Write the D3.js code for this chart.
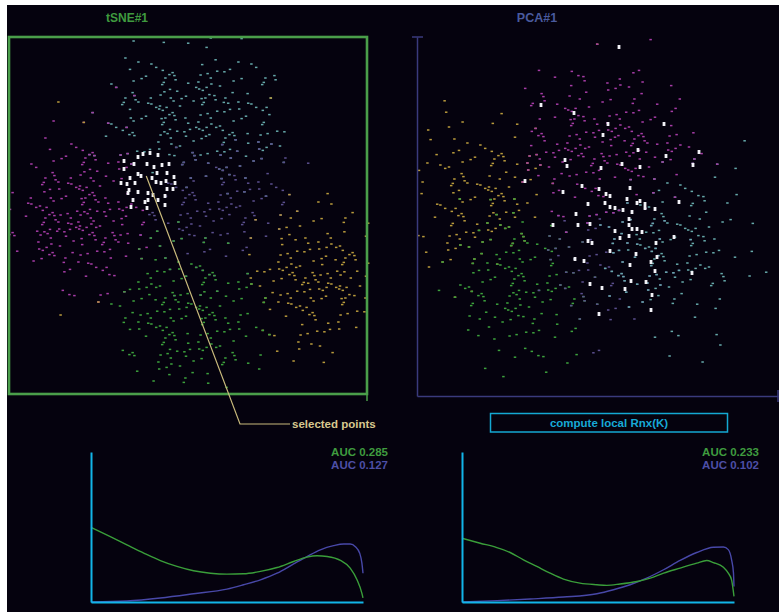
<!DOCTYPE html>
<html>
<head>
<meta charset="utf-8">
<script src="https://cdn.jsdelivr.net/npm/d3@7"></script>
<style>
  html, body { margin: 0; padding: 0; background: #ffffff; }
  svg { display: block; }
  text { font-family: "Liberation Sans", Arial, Helvetica, sans-serif; font-weight: bold; }
</style>
</head>
<body>
<svg id="chart" width="779" height="612"></svg>
<script>
// ---------- embedding data: point counts per 20x20 cell (base-36 digits), 18 x 18 cells ----------
const tsneCyan = [
  "000000111111000000","000001333332210000","000002455554310000","000013577765420000",
  "000024677766420000","000022236665420000","000000112333210000","000000001122100000",
  "000000000000000000","000000000000000000","000000000000000000","000000000000000000",
  "000000000000000000","000000000000000000","000000000000000000","000000000000000000",
  "000000000000000000","000000000000000000"];
const tsneMagenta = [
  "000000000000000000","000000000000000000","000001100000000000","000010000000000000",
  "001111000000000000","012332000000000000","024553100000000000","146763000000000000",
  "368886300000000000","378987300000000000","146665200000000000","023443100000000000",
  "001221000000000000","000010000000000000","000000000000000000","000000000000000000",
  "000000000000000000","000000000000000000"];
const tsnePurple = [
  "000000000000000000","000000000000000000","000000000000000000","000000000000000000",
  "000000000000000000","000000001222210000","000000002344321000","000000024555431000",
  "000000035555431000","000000134554310000","000000023332100000","000000012221000000",
  "000000001110000000","000000000000000000","000000000000000000","000000000000000000",
  "000000000000000000","000000000000000000"];
const tsneOrange = [
  "000000000000000000","000000000000000000","000000000000000000","001000000000010000",
  "000100000000000000","000000000000000000","000000000000000000","000000000000001100",
  "000000000000011111","000000000000123332","000000000000245553","000000000000257774",
  "000000000000357874","001010000000246663","000000000000123431","000000000000012210",
  "000000000000001100","000000000000000000"];
const tsneGreen = [
  "000000000000000000","000000000000000000","000000000000000000","000000000000000000",
  "000000000000000000","000000000000000000","000000000000000000","000000000000000000",
  "000000000000000000","000000011000000000","000000122210000000","000000244431000000",
  "000001456543100000","000002567654200000","000002567654210000","000001356543100000",
  "000000134432100000","000000012110000000"];

const pcaCyan = [
  "000000000000000000","000000000000000000","000000000000000000","000000000000000000",
  "000000000000000000","000000000000000010","000000000000122100","000000000012332100",
  "000000000023332100","000000000245554210","000000000356654210","000000000245553211",
  "000000000133432100","000000000012221100","000000000001111000","000000000000100100",
  "000000000000001000","000000000000000000"];
const pcaMagenta = [
  "000000001001000000","000000212011000000","000001222332100000","000002344443210000",
  "000002466665310000","000003567776421000","000002455554321000","000001333322100000",
  "000000122211000000","000000011000000000","000000000000000000","000000000000000000",
  "000000000000000000","000000000000000000","000000000000000000","000000000000000000",
  "000000000000000000","000000000000000000"];
const pcaPurple = [
  "000000000000000000","000000000000000000","000000000000000000","000000000000000000",
  "000000000000000000","000000000000000000","000000000000000000","000000000000000000",
  "000000012221000000","000000123332100000","000000234443210000","000000134443210000",
  "000000123332100000","000000012221000000","000000001110000000","000000001100000000",
  "000000000000000000","000000000000000000"];
const pcaOrange = [
  "000000001000000000","000000000000000000","000000000000000000","020010000000000000",
  "111121000000000000","223332000000000000","234443100000000000","245653100000000000",
  "246763000000000000","245542000000000000","133321000000000000","122100000000000000",
  "011000000000000000","000000000000000000","000000000000000000","000000000000000000",
  "000000000000000000","000000000000000000"];
const pcaGreen = [
  "000000000000000000","000000000000000000","000000000000000000","000000000000000000",
  "000000000000000000","000000000000000000","000000000000000000","000000000000000000",
  "001220000000000000","000233210000000000","002455421000000000","013566531000000000",
  "024566531000000000","003455432000000000","001344321000000000","000122210000000000",
  "000110110000000000","000000000000000000"];

// selected points, in embedding units (0..360)
const tsneSelected = [
  [129,120],[134,117],[141,116],[149,118],[115,124],[125,127],[138,127],[153,128],[160,127],[145,130],
  [115,132],[129,137],[132,139],[148,136],[158,136],[121,141],[143,141],[165,140],[112,146],[118,147],
  [147,145],[152,146],[157,144],[166,146],[126,146],[120,153],[129,155],[139,156],[158,152],[164,152],
  [119,156],[144,158],[156,159],[124,163],[136,165],[139,163],[149,163],[156,168],[122,170],[138,171]];
const pcaSelected = [
  [201,9],[123,67],[156,75],[246,86],[190,86],[185,97],[220,112],[281,114],[248,118],[204,126],
  [147,122],[149,128],[275,127],[183,130],[222,129],[107,143],[164,148],[145,154],[181,151],[212,150],
  [192,158],[188,156],[209,161],[219,165],[222,163],[227,166],[261,164],[187,165],[170,166],[192,169],
  [197,170],[205,172],[214,174],[227,170],[237,171],[158,176],[211,181],[211,187],[135,187],[160,187],
  [172,186],[214,191],[219,191],[197,193],[224,194],[211,198],[202,200],[238,205],[256,199],[174,205],
  [170,203],[192,213],[218,216],[239,219],[233,224],[157,221],[166,223],[212,227],[237,233],[274,235],
  [213,243],[228,244],[172,246],[184,250],[207,251],[234,257],[233,272],[181,276]];

// ---------- local quality curves Rnx(K), K normalised to 0..1 ----------
const leftCurveGreen = [[0,0.498],[0.071,0.436],[0.132,0.381],[0.194,0.326],[0.255,0.276],[0.316,0.237],
  [0.377,0.208],[0.439,0.192],[0.5,0.186],[0.561,0.188],[0.623,0.204],[0.684,0.230],[0.745,0.270],
  [0.794,0.299],[0.831,0.308],[0.868,0.303],[0.917,0.277],[0.953,0.226],[0.978,0.148],[0.996,0.058],[1.0,0.027]];
const leftCurveBlue = [[0,0],[0.132,0.007],[0.255,0.027],[0.377,0.055],[0.5,0.086],[0.561,0.115],
  [0.623,0.148],[0.684,0.192],[0.745,0.254],[0.794,0.303],[0.843,0.348],[0.892,0.376],[0.929,0.387],
  [0.953,0.387],[0.972,0.369],[0.988,0.325],[0.996,0.259],[1.0,0.192]];
const rightCurveGreen = [[0,0.425],[0.067,0.392],[0.128,0.363],[0.177,0.330],[0.226,0.281],[0.275,0.237],
  [0.324,0.192],[0.373,0.153],[0.434,0.126],[0.496,0.115],[0.532,0.111],[0.581,0.120],[0.643,0.137],
  [0.692,0.159],[0.741,0.192],[0.802,0.226],[0.863,0.259],[0.900,0.277],[0.924,0.263],[0.961,0.232],
  [0.979,0.192],[0.991,0.148],[1.0,0.038]];
const rightCurveBlue = [[0,0],[0.129,0.009],[0.251,0.020],[0.373,0.033],[0.496,0.055],[0.557,0.082],
  [0.618,0.115],[0.679,0.159],[0.741,0.215],[0.802,0.277],[0.863,0.330],[0.924,0.365],[0.961,0.367],
  [0.979,0.349],[0.991,0.283],[0.998,0.194],[1.0,0.104]];

const aucLeft = ["AUC 0.285", "AUC 0.127"];
const aucRight = ["AUC 0.233", "AUC 0.102"];

// fixed spread pattern used to lay points out inside a cell
const cellSpread = [[0.12,0.35],[0.63,0.08],[0.41,0.71],[0.88,0.52],[0.27,0.93],[0.74,0.27],[0.05,0.62],
  [0.55,0.45],[0.93,0.83],[0.33,0.14],[0.69,0.67],[0.18,0.78],[0.82,0.05],[0.47,0.25],[0.09,0.05],
  [0.58,0.90],[0.96,0.31],[0.36,0.52],[0.23,0.20],[0.77,0.74],[0.51,0.60],[0.02,0.88],[0.66,0.38],[0.85,0.96]];

const clusterColor = {
  cyan: "#66a9aa", magenta: "#a63ca6", purple: "#5b4f8e", orange: "#b99b3c", green: "#3da23d"
};

// ---------- helpers ----------
const CELL = 20;
function gridPoints(grid, cluster) {
  const pts = [];
  grid.forEach((row, r) => {
    for (let c = 0; c < row.length; c++) {
      const n = parseInt(row[c], 36);
      for (let k = 0; k < n; k++) {
        const o = cellSpread[(k * 7 + r * 5 + c * 11) % cellSpread.length];
        pts.push({ x: (c + o[0]) * CELL, y: (r + o[1]) * CELL, cluster });
      }
    }
  });
  return pts;
}

const svg = d3.select("#chart");
svg.append("rect").attr("x", 7).attr("y", 5).attr("width", 772).attr("height", 607).attr("fill", "#05020e");

function drawScatter(sx, sy, layers, selected) {
  const g = svg.append("g");
  layers.forEach(([grid, name]) => {
    g.selectAll(null).data(gridPoints(grid, name)).join("rect")
      .attr("x", d => sx(d.x) - 1.25).attr("y", d => sy(d.y) - 0.75)
      .attr("width", 2.5).attr("height", 1.5)
      .attr("fill", d => clusterColor[d.cluster]);
  });
  g.selectAll(null).data(selected).join("rect")
    .attr("x", d => sx(d[0]) - 1.4).attr("y", d => sy(d[1]) - 2)
    .attr("width", 2.8).attr("height", 4)
    .attr("fill", "#f2f2f7");
}

// ---------- tSNE panel ----------
const tx = d3.scaleLinear().domain([0, 360]).range([9, 369]);
const ty = d3.scaleLinear().domain([0, 360]).range([37, 397]);
drawScatter(tx, ty, [[tsneCyan,"cyan"],[tsnePurple,"purple"],[tsneMagenta,"magenta"],[tsneOrange,"orange"],[tsneGreen,"green"]], tsneSelected);

svg.append("rect").attr("x", 9).attr("y", 37).attr("width", 358).attr("height", 357)
  .attr("fill", "none").attr("stroke", "#4a9e4a").attr("stroke-width", 2.6);
svg.append("line").attr("x1", 367).attr("x2", 367).attr("y1", 390).attr("y2", 401)
  .attr("stroke", "#4a9e4a").attr("stroke-width", 1.5);
svg.append("text").attr("x", 127).attr("y", 22).attr("text-anchor", "middle")
  .attr("font-size", 12).attr("fill", "#3f9a3f").text("tSNE#1");

// ---------- PCA panel ----------
const px = d3.scaleLinear().domain([0, 360]).range([418, 778]);
const py = d3.scaleLinear().domain([0, 360]).range([38, 398]);
drawScatter(px, py, [[pcaOrange,"orange"],[pcaGreen,"green"],[pcaPurple,"purple"],[pcaCyan,"cyan"],[pcaMagenta,"magenta"]], pcaSelected);

const pcaAxisColor = "#3a3a7c";
const pyAxis = d3.scaleLinear().domain([0, 1]).range([396, 37]);
const pxAxis = d3.scaleLinear().domain([0, 1]).range([417, 778]);
svg.append("g").attr("transform", "translate(417,0)")
  .call(d3.axisLeft(pyAxis).ticks(0).tickSizeOuter(0))
  .call(g => g.select(".domain").attr("stroke", pcaAxisColor).attr("stroke-width", 1.5));
svg.append("g").attr("transform", "translate(0,396)")
  .call(d3.axisBottom(pxAxis).ticks(0).tickSizeOuter(0))
  .call(g => g.select(".domain").attr("stroke", pcaAxisColor).attr("stroke-width", 1.5));
svg.append("line").attr("x1", 412).attr("x2", 423).attr("y1", 37).attr("y2", 37)
  .attr("stroke", pcaAxisColor).attr("stroke-width", 1.5);
svg.append("line").attr("x1", 778).attr("x2", 778).attr("y1", 390).attr("y2", 402)
  .attr("stroke", pcaAxisColor).attr("stroke-width", 1.5);
svg.append("text").attr("x", 537).attr("y", 22).attr("text-anchor", "middle")
  .attr("font-size", 12.5).attr("fill", "#4a5a9e").text("PCA#1");

// ---------- annotation for the selection ----------
const selCenter = d3.mean(tsneSelected, d => d[0]);
const selMid = d3.mean(tsneSelected, d => d[1]);
svg.append("polyline")
  .attr("points", [[tx(selCenter) - 2, ty(selMid) - 5], [240, 424], [290, 424]].map(p => p.join(",")).join(" "))
  .attr("fill", "none").attr("stroke", "#c9ba7c").attr("stroke-width", 1.2);
svg.append("text").attr("x", 292).attr("y", 427.5).attr("font-size", 11.5)
  .attr("fill", "#d8c88e").text("selected points");

// button
svg.append("rect").attr("x", 490.5).attr("y", 413.5).attr("width", 237).attr("height", 18.5)
  .attr("fill", "none").attr("stroke", "#14a8d2").attr("stroke-width", 1.5);
svg.append("text").attr("x", 609).attr("y", 427).attr("text-anchor", "middle")
  .attr("font-size", 11.5).attr("fill", "#17a9d6").text("compute local Rnx(K)");

// ---------- Rnx(K) charts ----------
function drawRnx(x0, x1, curves, labels, labelX) {
  const x = d3.scaleLinear().domain([0, 1]).range([x0, x1]);
  const y = d3.scaleLinear().domain([0, 1]).range([602, 452]);
  const line = d3.line().x(d => x(d[0])).y(d => y(d[1])).curve(d3.curveMonotoneX);
  curves.forEach(([data, color]) => {
    svg.append("path").datum(data).attr("d", line)
      .attr("fill", "none").attr("stroke", color).attr("stroke-width", 1.4);
  });
  const axisColor = "#12b5e8";
  svg.append("g").attr("transform", `translate(${x0},0)`)
    .call(d3.axisLeft(y).ticks(0).tickSizeOuter(0))
    .call(g => g.select(".domain").attr("stroke", axisColor).attr("stroke-width", 2));
  svg.append("g").attr("transform", "translate(0,602)")
    .call(d3.axisBottom(x).ticks(0).tickSizeOuter(0))
    .call(g => g.select(".domain").attr("stroke", axisColor).attr("stroke-width", 2));
  svg.append("text").attr("x", labelX).attr("y", 456).attr("text-anchor", "end")
    .attr("font-size", 11.5).attr("fill", "#3f9b3f").text(labels[0]);
  svg.append("text").attr("x", labelX).attr("y", 469).attr("text-anchor", "end")
    .attr("font-size", 11.5).attr("fill", "#4d4fa6").text(labels[1]);
}
drawRnx(91, 363, [[leftCurveBlue, "#4848a8"], [leftCurveGreen, "#3a9e3a"]], aucLeft, 388);
drawRnx(462, 734, [[rightCurveBlue, "#4848a8"], [rightCurveGreen, "#3a9e3a"]], aucRight, 759);
</script>
</body>
</html>
